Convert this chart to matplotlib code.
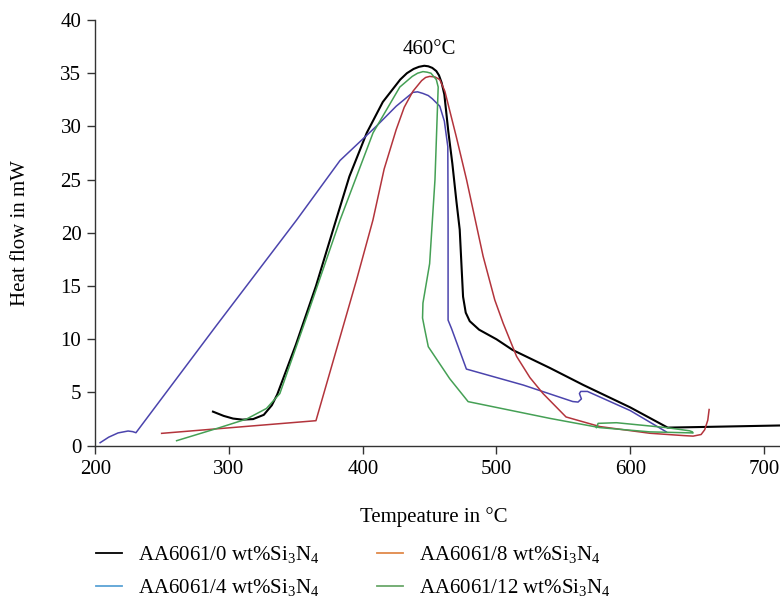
import numpy as np
import matplotlib
matplotlib.use("Agg")
import matplotlib.pyplot as plt
from matplotlib.lines import Line2D

plt.rcParams['font.family'] = ['Liberation Serif', 'DejaVu Serif']
plt.rcParams['mathtext.fontset'] = 'custom'
plt.rcParams['mathtext.rm'] = 'Liberation Serif'
plt.rcParams['mathtext.it'] = 'Liberation Serif:italic'

# AA6061/0 wt% Si3N4
t0 = [288, 296, 303, 310, 318, 326, 332, 336, 350, 365, 380, 390, 403, 415, 428,
      433, 438, 442, 446, 449, 452, 455, 457, 459, 461, 464, 467, 470, 472.5,
      474, 475, 477, 480, 487, 500, 512, 540, 565, 600, 628, 650, 712]
q0 = [3.2, 2.8, 2.55, 2.45, 2.5, 2.9, 3.8, 4.8, 9.5, 15.0, 21.2, 25.3, 29.4,
      32.3, 34.4, 35.0, 35.4, 35.6, 35.7, 35.65, 35.5, 35.2, 34.8, 34.1, 33.0,
      29.5, 26.5, 23.0, 20.3, 16.5, 14.0, 12.5, 11.7, 10.9, 10.0, 9.0, 7.3,
      5.7, 3.6, 1.7, 1.75, 1.9]

# AA6061/4 wt% Si3N4
t4 = [203.6, 210, 217, 224.5, 228, 230.4, 290, 350.5, 383, 410, 425, 437.5, 441,
      445, 449, 452, 457.6, 461, 463.6, 463.8, 463.8, 466.4, 477.5, 520, 557,
      561, 563.5, 562, 563, 568, 600, 627]
q4 = [0.28, 0.8, 1.2, 1.38, 1.32, 1.22, 11.2, 21.2, 26.8, 30.0, 31.9, 33.2,
      33.25, 33.1, 32.9, 32.6, 31.9, 30.5, 28.1, 21.2, 11.8, 11.0, 7.2, 5.7,
      4.15, 4.1, 4.4, 4.9, 5.1, 5.1, 3.3, 1.3]

# AA6061/8 wt% Si3N4
t8 = [249.6, 365, 395.4, 407.6, 416, 425, 431, 437.5, 444, 447, 450, 454, 457.6,
      461.4, 470, 477.6, 490, 498.7, 505, 515, 525, 534.8, 552, 577.2, 614.6,
      640, 647, 653, 655.7, 658, 659]
q8 = [1.16, 2.35, 15.6, 21.2, 26.0, 29.7, 31.8, 33.3, 34.3, 34.6, 34.7, 34.65,
      34.4, 33.3, 29.0, 25.0, 17.8, 13.7, 11.5, 8.4, 6.4, 4.9, 2.7, 1.8, 1.17,
      0.95, 0.9, 1.05, 1.5, 2.4, 3.4]

# AA6061/12 wt% Si3N4
t12 = [260.8, 293, 313, 328, 338, 360, 383, 407.7, 427.7, 437, 441, 445, 448,
       451, 455, 456.4, 454, 450, 445, 444.7, 446.4, 449, 465, 478.8, 539.8,
       577.2, 614.6, 647, 646.5, 644.4, 627, 589.7, 576, 574.8]
q12 = [0.47, 1.7, 2.5, 3.5, 4.9, 12.8, 21.2, 29.4, 33.7, 34.7, 35.0, 35.15,
       35.1, 35.0, 34.4, 33.7, 25.0, 17.1, 13.4, 12.0, 10.9, 9.3, 6.3, 4.14,
       2.57, 1.7, 1.3, 1.2, 1.3, 1.4, 1.7, 2.16, 2.1, 1.7]

labels = [r'AA6061/0 wt%Si$_3$N$_4$', r'AA6061/4 wt%Si$_3$N$_4$',
          r'AA6061/8 wt%Si$_3$N$_4$', r'AA6061/12 wt%Si$_3$N$_4$']
line_colors = ['#000000', '#4b44ad', '#b3343c', '#45a055']
legend_colors = ['#000000', '#5aa3d6', '#e0894a', '#6aa86a']

fs = 15

fig = plt.figure(figsize=(7.8, 6.01), dpi=100)
ax = fig.add_axes([95.3 / 780, 1 - 445.7 / 601, 1 - 95.3 / 780, (445.7 - 20) / 601])

ax.plot(t0, q0, color=line_colors[0], lw=1.5)
ax.plot(t4, q4, color=line_colors[1], lw=1.1)
ax.plot(t8, q8, color=line_colors[2], lw=1.1)
ax.plot(t12, q12, color=line_colors[3], lw=1.1)

ax.text(450, 36.3, '460°C', ha='center', va='bottom', fontsize=fs)

ax.set_xlim(200, 712)
ax.set_ylim(0, 40)
ax.set_xticks([200, 300, 400, 500, 600, 700])
ax.set_yticks(np.arange(0, 41, 5))
for s in ['top', 'right']:
    ax.spines[s].set_visible(False)
for s in ['left', 'bottom']:
    ax.spines[s].set_color('#333333')
    ax.spines[s].set_linewidth(1.0)
ax.tick_params(direction='out', length=6, width=1.0, color='#333333',
               labelsize=fs, pad=4)

ax.set_xlabel('Tempeature in °C', fontsize=fs, labelpad=20)
ax.set_ylabel('Heat flow in mW', fontsize=fs, labelpad=22)
ax.xaxis.set_label_coords(0.494, -0.145)

handles = [Line2D([], [], color=c, lw=1.3) for c in legend_colors]
fig.legend(handles, labels, ncol=2, loc='upper left',
           bbox_to_anchor=(96 / 780, 1 - 544 / 601), frameon=False,
           fontsize=fs, borderpad=0, borderaxespad=0, handlelength=1.25,
           handletextpad=0.75, columnspacing=2.8, labelspacing=0.6)

fig.savefig('out.png', dpi=100)
